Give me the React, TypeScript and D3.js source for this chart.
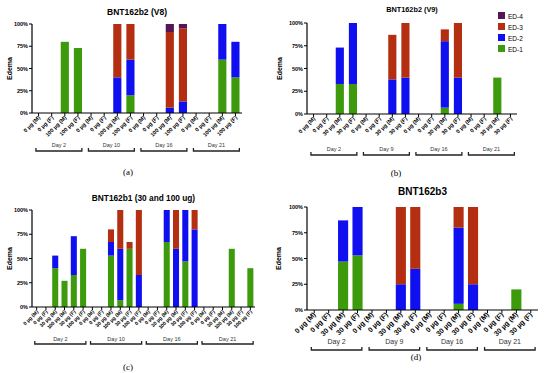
import React from 'react';
import * as d3 from 'd3';

// tick labels
const catsA = ['0 µg (M)', '0 µg (F)', '100 µg (M)', '100 µg (F)'];
const catsB = ['0 µg (M)', '0 µg (F)', '30 µg (M)', '30 µg (F)'];
const catsC = ['0 µg (M)', '0 µg (F)', '30 µg (M)', '100 µg (M)', '30 µg (F)', '100 µg (F)'];
const daysA = ['Day 2', 'Day 10', 'Day 16', 'Day 21'];
const daysB = ['Day 2', 'Day 9', 'Day 16', 'Day 21'];
const seriesNames = ['ED-1', 'ED-2', 'ED-3', 'ED-4'];
const yTicks = [0, 25, 50, 75, 100];

// (a) BNT162b2 (V8)
const ed1A = [0, 0, 80, 73, 0, 0, 0, 20, 0, 0, 0, 0, 0, 0, 60, 40];
const ed2A = [0, 0, 0, 0, 0, 0, 40, 40, 0, 0, 6, 13, 0, 0, 40, 40];
const ed3A = [0, 0, 0, 0, 0, 0, 60, 40, 0, 0, 85, 82, 0, 0, 0, 0];
const ed4A = [0, 0, 0, 0, 0, 0, 0, 0, 0, 0, 9, 5, 0, 0, 0, 0];

// (b) BNT162b2 (V9)
const ed1B = [0, 0, 33, 33, 0, 0, 0, 0, 0, 0, 7, 0, 0, 0, 40, 0];
const ed2B = [0, 0, 40, 67, 0, 0, 38, 40, 0, 0, 73, 40, 0, 0, 0, 0];
const ed3B = [0, 0, 0, 0, 0, 0, 49, 60, 0, 0, 13, 60, 0, 0, 0, 0];
const ed4B = [0, 0, 0, 0, 0, 0, 0, 0, 0, 0, 0, 0, 0, 0, 0, 0];

// (c) BNT162b1 (30 and 100 ug)
const ed1C = [0, 0, 40, 27, 33, 60, 0, 0, 53, 7, 60, 0, 0, 0, 67, 0, 47, 0, 0, 0, 0, 60, 0, 40];
const ed2C = [0, 0, 13, 0, 40, 0, 0, 0, 14, 53, 0, 33, 0, 0, 33, 60, 53, 80, 0, 0, 0, 0, 0, 0];
const ed3C = [0, 0, 0, 0, 0, 0, 0, 0, 13, 40, 7, 67, 0, 0, 0, 40, 0, 20, 0, 0, 0, 0, 0, 0];
const ed4C = [0, 0, 0, 0, 0, 0, 0, 0, 0, 0, 0, 0, 0, 0, 0, 0, 0, 0, 0, 0, 0, 0, 0, 0];

// (d) BNT162b3
const ed1D = [0, 0, 47, 53, 0, 0, 0, 0, 0, 0, 6, 0, 0, 0, 20, 0];
const ed2D = [0, 0, 40, 47, 0, 0, 25, 40, 0, 0, 74, 25, 0, 0, 0, 0];
const ed3D = [0, 0, 0, 0, 0, 0, 75, 60, 0, 0, 20, 75, 0, 0, 0, 0];
const ed4D = [0, 0, 0, 0, 0, 0, 0, 0, 0, 0, 0, 0, 0, 0, 0, 0];

const colors = ['#3c9a0c', '#0f0ff0', '#b42e12', '#551656'];
const font = '"Liberation Sans", Arial, sans-serif';

interface PanelProps {
  cats: string[];
  days: string[];
  series: number[][];
  x0: number; x1: number; yTop: number; yBot: number;
  title: string; titleY: number; titleSize: number;
  tickSize: number; dayY: number; daySize: number; bracketY: number;
  letter: string; letterX: number; letterY: number;
  labelX: number; padding: number; legend?: boolean;
}

function Panel(p: PanelProps) {
  const perDay = p.cats.length;
  const n = perDay * p.days.length;
  const idx = d3.range(n);
  const x = d3.scaleBand<number>().domain(idx).range([p.x0, p.x1]).paddingInner(p.padding).paddingOuter(p.padding / 2);
  const y = d3.scaleLinear().domain([0, 100]).range([p.yBot, p.yTop]);
  const rows = idx.map(i => {
    const r: Record<string, number> = {};
    seriesNames.forEach((s, k) => { r[s] = p.series[k][i]; });
    return r;
  });
  const stacked = d3.stack<Record<string, number>>().keys(seriesNames)(rows);
  const step = x.step();
  const cx = (p.x0 + p.x1) / 2;
  return (
    <g fontFamily={font}>
      <text x={cx} y={p.titleY} textAnchor="middle" fontWeight="bold" fontSize={p.titleSize}>{p.title}</text>
      <text transform={`translate(${p.labelX},${(p.yTop + p.yBot) / 2}) rotate(-90)`} textAnchor="middle"
        fontWeight="bold" fontSize={7}>Edema</text>
      {stacked.map((layer, k) => (
        <g key={k} fill={colors[k]}>
          {layer.map((d, i) => d[1] - d[0] > 0 ? (
            <rect key={i} x={x(i)} width={x.bandwidth()} y={y(d[1])} height={y(d[0]) - y(d[1])} />
          ) : null)}
        </g>
      ))}
      {/* y axis */}
      <line x1={p.x0} x2={p.x0} y1={p.yTop} y2={p.yBot} stroke="#000" strokeWidth={1.2} />
      {yTicks.map(t => (
        <g key={t}>
          <line x1={p.x0 - 3} x2={p.x0} y1={y(t)} y2={y(t)} stroke="#000" strokeWidth={1} />
          <text x={p.x0 - 4} y={y(t) + 2} textAnchor="end" fontSize={5.5} fontWeight="bold">{t}%</text>
        </g>
      ))}
      {/* x axis */}
      <line x1={p.x0} x2={p.x1} y1={p.yBot} y2={p.yBot} stroke="#000" strokeWidth={1.2} />
      {idx.map(i => {
        const tx = (x(i) as number) + x.bandwidth() / 2;
        return (
          <g key={i}>
            <line x1={tx} x2={tx} y1={p.yBot} y2={p.yBot + 3} stroke="#000" strokeWidth={1} />
            <text transform={`translate(${tx + 2},${p.yBot + 5}) rotate(-45)`} textAnchor="end"
              fontSize={p.tickSize} fontWeight="bold">{p.cats[i % perDay]}</text>
          </g>
        );
      })}
      {/* day brackets */}
      {p.days.map((d, j) => {
        const a = p.x0 + j * perDay * step + step * 0.3;
        const b = p.x0 + (j + 1) * perDay * step - step * 0.2;
        return (
          <g key={d}>
            <path d={`M${a},${p.bracketY - 3}V${p.bracketY}H${b}V${p.bracketY - 3}`} fill="none" stroke="#222" strokeWidth={1.3} />
            <text x={(a + b) / 2} y={p.dayY} textAnchor="middle" fontSize={p.daySize} fill="#333">{d}</text>
          </g>
        );
      })}
      <text x={p.letterX} y={p.letterY} textAnchor="middle" fontSize={9} fontFamily='"Liberation Serif", serif'>{p.letter}</text>
      {p.legend && seriesNames.slice().reverse().map((s, k) => (
        <g key={s} transform={`translate(498,${12 + k * 11})`}>
          <rect width={7} height={7} fill={colors[3 - k]} />
          <text x={10} y={6.5} fontSize={6.5}>{s}</text>
        </g>
      ))}
    </g>
  );
}

export default function App() {
  return (
    <div style={{ position: 'absolute', left: 0, top: 0 }}>
      <svg width={550} height={373} style={{ display: 'block', background: '#fff' }}>
        <Panel cats={catsA} days={daysA} series={[ed1A, ed2A, ed3A, ed4A]}
          x0={32} x1={242} yTop={24} yBot={113} title="BNT162b2 (V8)" titleY={15} titleSize={8.5}
          tickSize={5.5} dayY={147} daySize={5.5} bracketY={151} letter="(a)" letterX={128} letterY={175}
          labelX={12} padding={0.38} />
        <Panel cats={catsB} days={daysB} series={[ed1B, ed2B, ed3B, ed4B]}
          x0={307} x1={517} yTop={23} yBot={114} title="BNT162b2 (V9)" titleY={12} titleSize={7.3}
          tickSize={5.5} dayY={151} daySize={5.5} bracketY={155} letter="(b)" letterX={396} letterY={176}
          labelX={282} padding={0.38} legend />
        <Panel cats={catsC} days={daysA} series={[ed1C, ed2C, ed3C, ed4C]}
          x0={32} x1={255} yTop={210} yBot={307} title="BNT162b1 (30 and 100 ug)" titleY={201} titleSize={8.3}
          tickSize={5} dayY={341} daySize={5.5} bracketY={344} letter="(c)" letterX={128} letterY={370}
          labelX={12} padding={0.35} />
        <Panel cats={catsB} days={daysB} series={[ed1D, ed2D, ed3D, ed4D]}
          x0={307} x1={538} yTop={207} yBot={310} title="BNT162b3" titleY={195} titleSize={10}
          tickSize={7} dayY={344} daySize={7} bracketY={350} letter="(d)" letterX={416} letterY={360}
          labelX={281} padding={0.3} />
      </svg>
    </div>
  );
}
